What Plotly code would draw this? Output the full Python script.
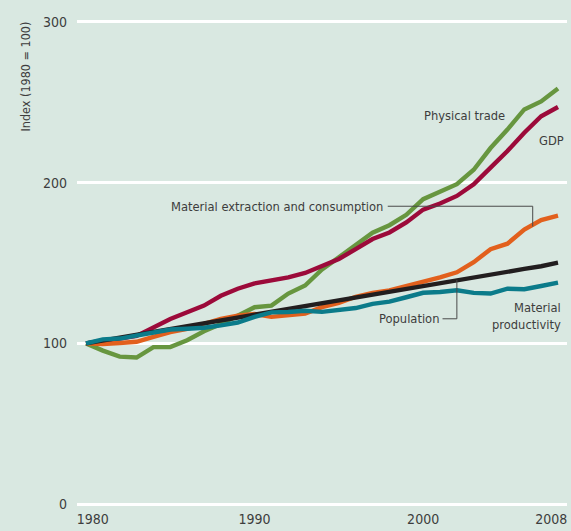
import plotly.graph_objects as go

# Index values, 1980 = 100
years = list(range(1980, 2009))

physical_trade = [100, 95.5, 91.8, 91.2, 97.7, 97.7, 102.0, 107.5, 112.0, 117.5,
                  122.5, 123.5, 131.0, 136.0, 146.0, 153.5, 161.5, 168.8, 173.5, 180.0,
                  189.7, 194.5, 199.0, 208.0, 221.5, 233.0, 245.5, 250.5, 258.5]

gdp = [100, 101.8, 103.0, 104.6, 110.0, 115.2, 119.4, 123.5, 129.6, 134.0,
       137.3, 139.0, 141.1, 143.8, 148.0, 152.5, 158.6, 164.9, 169.0, 175.2,
       183.2, 187.0, 191.7, 199.0, 209.3, 219.6, 231.0, 241.3, 247.0]

material_extraction = [100, 99.6, 100.2, 101.0, 104.0, 107.0, 109.1, 112.2, 115.3, 117.3,
                       118.3, 116.5, 117.4, 118.5, 122.5, 125.2, 129.0, 131.4, 133.0, 135.5,
                       138.2, 141.1, 144.2, 150.5, 158.6, 162.0, 170.8, 176.7, 179.4]

population = [100, 101.8, 103.5, 105.3, 107.1, 108.9, 110.7, 112.6, 114.4, 116.3,
              118.2, 120.0, 121.8, 123.6, 125.4, 127.2, 129.0, 130.8, 132.6, 134.4,
              136.1, 137.8, 139.5, 141.2, 142.9, 144.6, 146.3, 148.0, 150.2]

material_productivity = [100, 102.5, 103.0, 105.0, 107.0, 108.6, 109.1, 109.7, 111.2, 113.0,
                         116.5, 119.3, 119.5, 120.3, 119.6, 120.5, 122.0, 124.6, 126.0, 128.7,
                         131.5, 132.0, 133.0, 131.4, 131.0, 134.0, 133.7, 135.7, 137.8]

tick_years = [1980, 1990, 2000, 2008]
y_ticks = [0, 100, 200, 300]

BG = "#d9e8e1"
TEXT = "#3d3d3d"
FONT = "DejaVu Sans Condensed, Liberation Sans Narrow, sans-serif"

series = [
    ("Physical trade", physical_trade, "#67963f"),
    ("GDP", gdp, "#9c0a3a"),
    ("Material extraction and consumption", material_extraction, "#e2601d"),
    ("Population", population, "#221e1f"),
    ("Material productivity", material_productivity, "#0b7b8a"),
]

fig = go.Figure()
for name, vals, color in series:
    fig.add_trace(go.Scatter(
        x=years, y=vals, mode="lines", name=name,
        line=dict(color=color, width=4.4),
        hoverinfo="skip",
    ))

# end labels sit inside the gridline span
tick_pos = [t + (0.4 if t == tick_years[0] else -0.4 if t == tick_years[-1] else 0)
            for t in tick_years]

fig.update_layout(
    width=571, height=531,
    margin=dict(l=77, r=4, t=17, b=20),
    paper_bgcolor=BG, plot_bgcolor=BG,
    showlegend=False,
    font=dict(family=FONT, size=14, color=TEXT),
    xaxis=dict(
        range=[1979.466, 2008.534], showgrid=False, zeroline=False, showline=False,
        tickvals=tick_pos, ticktext=[str(t) for t in tick_years],
        ticks="", tickfont=dict(size=14, color=TEXT), fixedrange=True,
    ),
    yaxis=dict(
        range=[-3, 303], tickvals=y_ticks, showgrid=True, gridcolor="white",
        gridwidth=3, zeroline=False, showline=False, ticks="",
        tickfont=dict(size=14, color=TEXT), ticklabelstandoff=9, fixedrange=True,
    ),
)

# axis title placed at the top of the value axis
fig.add_annotation(
    text="Index (1980 = 100)", textangle=-90, showarrow=False,
    xref="paper", yref="paper", x=-0.106, y=0.995, xanchor="center", yanchor="top",
    font=dict(size=12.5, color=TEXT),
)

label_font = dict(size=12.8, color=TEXT)
fig.add_annotation(text="Physical trade", x=2005.0, y=241.5, xref="x", yref="y",
                   showarrow=False, xanchor="right", font=label_font)
fig.add_annotation(text="GDP", x=2008.45, y=226.0, xref="x", yref="y",
                   showarrow=False, xanchor="right", font=label_font)
fig.add_annotation(text="Material extraction and consumption", x=1997.75, y=185.3,
                   xref="x", yref="y", showarrow=False, xanchor="right", font=label_font)
fig.add_annotation(text="Population", x=2001.05, y=115.3, xref="x", yref="y",
                   showarrow=False, xanchor="right", font=label_font)
fig.add_annotation(text="Material<br>productivity", x=2008.3, y=117.0, xref="x", yref="y",
                   showarrow=False, xanchor="right", align="right", font=label_font)

# leader lines
leader = dict(color="#4a4a4a", width=1)
fig.add_shape(type="path", xref="x", yref="y", line=leader,
              path="M 1997.9,185.3 L 2006.5,185.3 L 2006.5,172.7")
fig.add_shape(type="path", xref="x", yref="y", line=leader,
              path="M 2001.15,115.3 L 2002.0,115.3 L 2002.0,139.5")

fig.write_html("out.html")
